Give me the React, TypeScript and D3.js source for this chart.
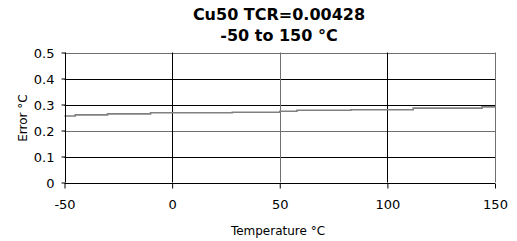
import React, { useRef, useEffect } from 'react';
import * as d3 from 'd3';

const temps = [-50, -45, -30, -10, 28, 50, 58, 83, 112, 144, 150];
const errors = [0.256, 0.26, 0.264, 0.268, 0.27, 0.274, 0.278, 0.28, 0.286, 0.291, 0.291];
const xTicks = [-50, 0, 50, 100, 150];
const yTicks = [0, 0.1, 0.2, 0.3, 0.4, 0.5];
const titleLines = ['Cu50 TCR=0.00428', '-50 to 150 °C'];

const App: React.FC = () => {
  const ref = useRef<SVGSVGElement>(null);

  useEffect(() => {
    if (!ref.current) return;
    const svg = d3.select(ref.current);
    svg.selectAll('*').remove();

    const width = 517;
    const height = 241;
    const margin = { top: 52.5, right: 22, bottom: 59, left: 64.5 };
    const font = 'Tahoma, Verdana, "DejaVu Sans", sans-serif';

    const x = d3.scaleLinear().domain([-50, 150]).range([margin.left, width - margin.right]);
    const y = d3.scaleLinear().domain([0, 0.5]).range([height - margin.bottom + 0.5, margin.top]);

    svg.append('rect').attr('width', width).attr('height', height).attr('fill', '#fff');

    // grid (the scanned original renders some grid lines slightly lighter)
    const soft = (v: number) => v === 0.2 || v === 0.5 || v === 50 || v === 150;
    const g = svg.append('g');
    g.selectAll('.hg')
      .data(yTicks.slice(1))
      .enter().append('line')
      .attr('x1', x(-50)).attr('x2', x(150))
      .attr('y1', d => Math.round(y(d)) + 0.5).attr('y2', d => Math.round(y(d)) + 0.5)
      .attr('stroke', d => (soft(d) ? '#707070' : '#000')).attr('stroke-width', 1);
    g.selectAll('.vg')
      .data(xTicks.slice(1))
      .enter().append('line')
      .attr('x1', d => Math.round(x(d)) + 0.5).attr('x2', d => Math.round(x(d)) + 0.5)
      .attr('y1', y(0)).attr('y2', y(0.5))
      .attr('stroke', d => (soft(d) ? '#707070' : '#000')).attr('stroke-width', 1);

    // data line
    const line = d3.line<number>()
      .x((_, i) => x(temps[i]))
      .y(d => y(d))
      .curve(d3.curveStepAfter);
    svg.append('path')
      .datum(errors)
      .attr('d', line)
      .attr('fill', 'none')
      .attr('stroke', '#808080')
      .attr('stroke-width', 1.6);

    // axes
    const xAxis = d3.axisBottom(x).tickValues(xTicks).tickSize(5).tickPadding(11)
      .tickFormat(d => String(d));
    const xg = svg.append('g').attr('transform', `translate(0,${Math.round(y(0)) + 0.5})`).call(xAxis);
    xg.select('.domain').remove();
    xg.append('line').attr('x1', x(-50)).attr('x2', x(150)).attr('stroke', '#000');
    xg.selectAll('text').attr('font-size', 13).attr('font-family', font).attr('fill', '#000');
    xg.selectAll('.tick line').attr('stroke', '#000');

    const yAxis = d3.axisLeft(y).tickValues(yTicks).tickSize(4).tickPadding(7)
      .tickFormat(d => String(d));
    const yg = svg.append('g').attr('transform', `translate(${Math.round(x(-50)) + 0.5},0)`).call(yAxis);
    yg.select('.domain').remove();
    yg.append('line').attr('y1', y(0)).attr('y2', y(0.5)).attr('stroke', '#000');
    yg.selectAll('text').attr('font-size', 13).attr('font-family', font).attr('fill', '#000')
      .attr('dy', '0.4em');
    yg.selectAll('.tick line').attr('stroke', '#000');

    // titles
    svg.append('g').selectAll('text')
      .data(titleLines)
      .enter().append('text')
      .attr('x', 279)
      .attr('y', (_, i) => 20 + i * 21)
      .attr('text-anchor', 'middle')
      .attr('font-family', font)
      .attr('font-weight', 'bold')
      .attr('font-size', 16)
      .text(d => d);

    svg.append('text')
      .attr('x', 278).attr('y', 235)
      .attr('text-anchor', 'middle')
      .attr('font-family', font).attr('font-size', 12)
      .text('Temperature °C');

    svg.append('text')
      .attr('transform', 'translate(27,118) rotate(-90)')
      .attr('text-anchor', 'middle')
      .attr('font-family', font).attr('font-size', 12)
      .text('Error °C');
  }, []);

  return (
    <svg ref={ref} width={517} height={241} style={{ position: 'absolute', left: 0, top: 0 }} />
  );
};

export default App;
